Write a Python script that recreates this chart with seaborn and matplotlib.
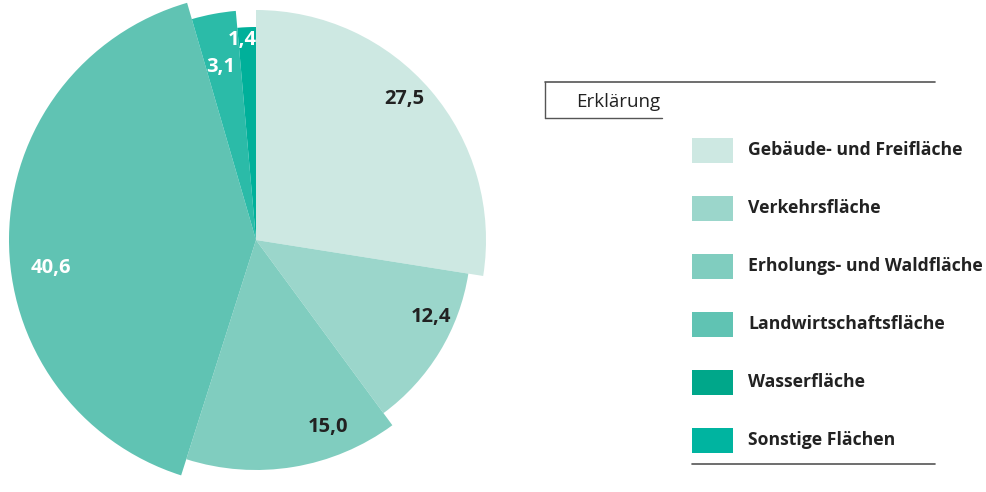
import matplotlib
matplotlib.use("Agg")
import matplotlib.pyplot as plt
from matplotlib.patches import Rectangle
import numpy as np
import seaborn as sns

# ---- data ----
categories = ["Gebäude- und Freifläche", "Verkehrsfläche", "Erholungs- und Waldfläche",
              "Landwirtschaftsfläche", "Wasserfläche", "Sonstige Flächen"]
values = [27.5, 12.4, 15.0, 40.6, 3.1, 1.4]
value_labels = ["27,5", "12,4", "15,0", "40,6", "3,1", "1,4"]
legend_title = "Erklärung"

# ---- style ----
slice_colors = ["#cde8e2", "#9bd6cb", "#80cdbf", "#60c3b3", "#2bbba8", "#00b09a"]
legend_colors = ["#cde8e2", "#9bd6cb", "#80cdbf", "#60c3b3", "#00a78a", "#00b4a0"]
label_colors = ["#222222", "#222222", "#222222", "#ffffff", "#ffffff", "#ffffff"]
slice_radius = [230, 215, 230, 247, 230, 213]
label_angle_shift = [3, 7.7, 11.6, 8.4, 1.0, 1.5]
label_dist = [0.89, 0.89, 0.87, 0.84, 0.77, 0.94]

sns.set_theme(style="white")
plt.rcParams["font.family"] = ["Open Sans", "DejaVu Sans"]

W, H = 986, 492
fig = plt.figure(figsize=(W / 100, H / 100), dpi=100)
ax = fig.add_axes([0, 0, 1, 1])

cx, cy = 256, H - 240
R = 235
wedges, _ = ax.pie(values, colors=slice_colors, startangle=90, counterclock=False,
                   center=(cx, cy), radius=R, frame=True,
                   wedgeprops=dict(linewidth=0))
ax.set_xlim(0, W)
ax.set_ylim(0, H)
ax.set_aspect("equal")
ax.axis("off")
for w, r in zip(wedges, slice_radius):
    w.set_radius(r)

for w, lab, col, r, sh, dd in zip(wedges, value_labels, label_colors, slice_radius,
                                  label_angle_shift, label_dist):
    mid = np.deg2rad((w.theta1 + w.theta2) / 2 + sh)
    d = dd * r
    ax.text(cx + d * np.cos(mid), cy + d * np.sin(mid), lab, ha="center", va="center",
            fontsize=14.5, fontweight="bold", color=col)

# ---- legend ----
def py(y):
    return H - y

line_col = "#555555"
ax.plot([545, 935], [py(82), py(82)], color=line_col, lw=1.2)
ax.plot([545, 545], [py(82), py(118)], color=line_col, lw=1.0)
ax.plot([545, 662], [py(118), py(118)], color=line_col, lw=1.0)
ax.text(576, py(102), legend_title, ha="left", va="center", fontsize=13.5, color="#222222")

row_y = [150, 208, 266, 324, 382, 440]
for yy, cat, col in zip(row_y, categories, legend_colors):
    ax.add_patch(Rectangle((692, py(yy + 12.5)), 41, 25, facecolor=col, edgecolor="none"))
    ax.text(748, py(yy), cat, ha="left", va="center", fontsize=12.7,
            fontweight="bold", color="#222222")
ax.plot([692, 935], [py(464), py(464)], color=line_col, lw=1.2)

fig.savefig("out.png", dpi=100, facecolor="white")
